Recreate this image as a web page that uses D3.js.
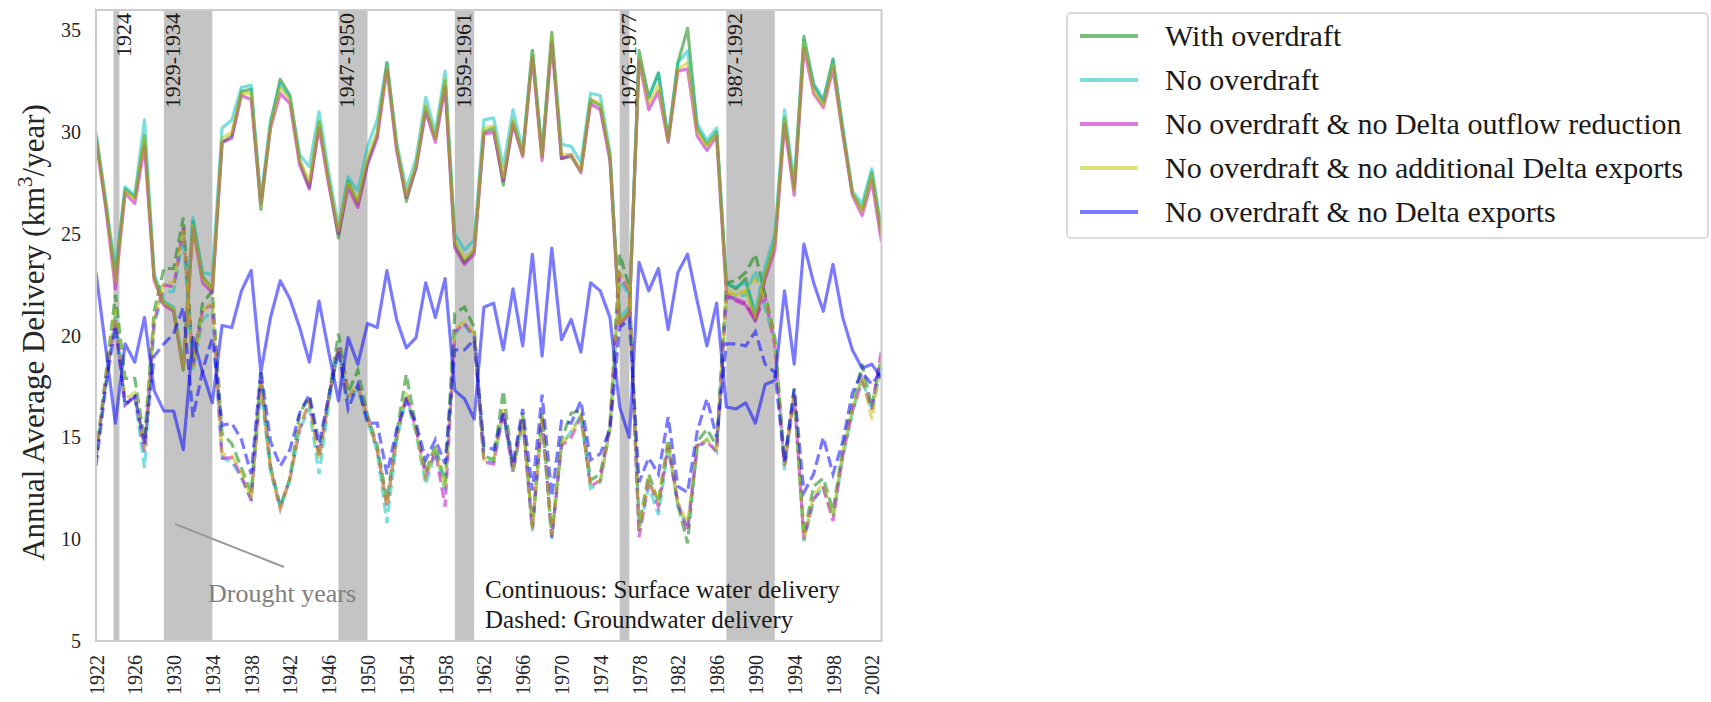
<!DOCTYPE html>
<html>
<head>
<meta charset="utf-8">
<script src="https://cdn.jsdelivr.net/npm/d3@7"></script>
<style>
  body { margin: 0; background: #fff; }
  svg { display: block; }
  text { font-family: "Liberation Serif", "Times New Roman", serif; }
</style>
</head>
<body>
<svg id="chart" width="1711" height="702"></svg>
<script>
// Water years simulated
const years = d3.range(1922, 2004);

// Surface water delivery (km3/year), one array per scenario
const withOverdraftSW = [
  29.8, 26.5, 22.9, 27.2, 26.8, 29.8, 22.9, 21.6, 21.3, 18.3,
  25.6, 22.9, 22.3, 29.5, 29.8, 32.0, 32.1, 26.2, 30.4, 32.6,
  31.8, 28.6, 27.3, 30.5, 27.6, 24.8, 27.6, 26.5, 28.5, 29.9,
  33.4, 29.3, 26.6, 28.3, 31.2, 29.7, 32.5, 24.5, 23.6, 24.2,
  30.0, 30.2, 27.4, 30.5, 28.9, 34.0, 28.8, 34.9, 28.7, 28.8,
  28.1, 31.6, 31.3, 28.8, 20.6, 21.2, 34.0, 31.7, 32.9, 29.6,
  33.4, 35.1, 30.2, 29.4, 30.0, 22.6, 22.3, 22.8, 20.8, 23.0,
  24.6, 30.7, 27.2, 34.7, 32.3, 31.5, 33.6, 30.1, 27.0, 26.2,
  28.0, 25.0
];
const noOverdraftSW = [
  30.0, 26.7, 23.2, 27.3, 26.9, 30.6, 23.0, 21.7, 21.4, 18.6,
  25.8, 23.1, 23.0, 30.2, 30.6, 32.2, 32.3, 26.7, 30.6, 32.4,
  31.7, 28.9, 28.3, 31.0, 28.0, 25.4, 27.8, 27.1, 29.3, 30.6,
  33.4, 29.5, 27.2, 28.7, 31.7, 30.0, 33.0, 25.0, 24.2, 24.7,
  30.6, 30.7, 28.3, 31.1, 29.1, 34.0, 29.1, 34.6, 29.4, 29.3,
  28.5, 31.9, 31.8, 29.0, 20.9, 21.4, 33.6, 31.7, 32.9, 29.7,
  33.4, 34.0, 30.4, 29.6, 30.2, 22.5, 22.4, 22.6, 21.2, 23.4,
  25.0, 31.1, 27.5, 34.5, 32.4, 31.6, 33.5, 30.3, 27.1, 26.5,
  28.2, 25.2
];
const noOutflowReductionSW = [
  29.6, 26.3, 22.3, 27.0, 26.5, 29.3, 22.7, 21.5, 21.2, 18.4,
  25.3, 22.6, 22.1, 29.5, 29.7, 31.8, 31.6, 26.5, 30.2, 31.9,
  31.4, 28.4, 27.2, 30.2, 27.4, 25.0, 27.3, 26.3, 28.4, 29.7,
  33.1, 29.1, 26.8, 28.2, 31.0, 29.5, 32.2, 24.3, 23.5, 24.0,
  29.9, 30.0, 27.6, 30.4, 28.8, 33.7, 28.6, 34.4, 28.7, 28.9,
  28.0, 31.4, 31.1, 28.6, 20.5, 21.1, 33.5, 31.1, 32.0, 29.5,
  33.0, 33.1, 29.8, 29.1, 29.8, 22.1, 21.7, 21.5, 20.7, 22.8,
  24.2, 30.4, 26.9, 34.1, 31.9, 31.2, 33.1, 29.9, 26.9, 25.9,
  27.6, 24.6
];
const noAdditionalExportsSW = [
  29.8, 26.5, 22.7, 27.1, 26.7, 29.8, 22.8, 21.6, 21.3, 18.4,
  25.4, 22.8, 22.3, 29.7, 30.0, 31.9, 31.9, 26.5, 30.3, 32.2,
  31.6, 28.6, 27.6, 30.5, 27.6, 25.2, 27.5, 26.6, 28.8, 30.0,
  33.2, 29.3, 26.9, 28.4, 31.3, 29.7, 32.6, 24.6, 23.8, 24.2,
  30.2, 30.3, 27.8, 30.6, 28.9, 33.9, 28.8, 34.7, 28.9, 28.9,
  28.1, 31.6, 31.4, 28.8, 20.6, 21.2, 33.6, 31.4, 32.3, 29.6,
  33.1, 33.4, 30.0, 29.3, 29.9, 22.3, 22.0, 22.2, 20.9, 23.0,
  24.5, 30.7, 27.1, 34.4, 32.0, 31.3, 33.3, 30.0, 27.0, 26.1,
  27.9, 24.9
];
const noExportsSW = [
  23.1, 19.4, 15.7, 19.6, 18.7, 20.9, 17.3, 16.3, 16.3, 14.4,
  19.9, 18.2, 16.7, 20.5, 20.4, 22.2, 23.2, 18.2, 20.9, 22.7,
  21.8, 20.4, 18.7, 21.7, 19.2, 16.8, 19.9, 18.6, 20.6, 20.4,
  23.2, 20.8, 19.4, 19.9, 22.6, 20.9, 22.8, 17.3, 16.9, 15.9,
  21.4, 21.6, 19.3, 22.3, 19.5, 24.0, 19.0, 24.3, 19.8, 20.8,
  19.2, 22.6, 22.2, 20.9, 16.5, 15.0, 23.6, 22.2, 23.3, 20.3,
  23.1, 24.0, 21.7, 19.5, 21.6, 16.5, 16.4, 16.7, 15.7, 17.6,
  17.8, 22.2, 18.6, 24.5, 22.6, 21.2, 23.5, 20.9, 19.3, 18.4,
  18.6, 17.9
];

// Groundwater delivery (km3/year), one array per scenario
const withOverdraftGW = [
  14.0, 18.0, 22.0, 17.9, 17.9, 14.9, 21.2, 23.3, 23.3, 25.8,
  18.6, 21.6, 22.2, 15.2, 14.7, 13.5, 12.3, 18.2, 13.6, 11.6,
  13.0, 16.2, 17.0, 14.2, 17.0, 20.1, 17.2, 18.3, 16.1, 14.6,
  11.9, 15.2, 18.1, 15.5, 13.3, 14.6, 12.8, 21.1, 21.4, 20.4,
  14.1, 13.9, 17.3, 13.5, 16.2, 10.6, 16.2, 10.1, 14.9, 16.2,
  16.3, 12.9, 13.2, 15.6, 24.0, 22.4, 10.7, 13.2, 11.8, 14.9,
  11.7, 9.8, 14.8, 15.4, 14.6, 22.6, 22.7, 23.1, 24.0, 22.0,
  19.9, 13.8, 17.4, 10.2, 12.6, 13.0, 11.4, 14.4, 16.6, 18.6,
  16.5, 19.0
];
const noOverdraftGW = [
  14.2, 17.6, 21.0, 16.6, 17.0, 13.5, 20.6, 22.1, 22.2, 24.8,
  18.3, 20.8, 21.2, 14.0, 13.8, 13.0, 12.0, 17.4, 13.3, 11.6,
  12.9, 15.4, 16.4, 13.2, 16.6, 19.4, 16.8, 17.4, 15.8, 14.3,
  10.8, 14.8, 17.0, 15.2, 12.7, 14.3, 12.4, 20.1, 20.5, 19.9,
  13.9, 13.8, 16.1, 13.3, 15.8, 10.4, 15.9, 10.0, 14.6, 15.3,
  16.1, 12.5, 12.8, 15.4, 22.7, 22.0, 10.4, 12.6, 11.2, 14.5,
  11.6, 10.6, 14.4, 14.9, 14.3, 21.8, 21.9, 22.0, 23.2, 21.3,
  19.8, 13.4, 17.0, 9.9, 11.9, 12.6, 11.1, 14.0, 16.2, 17.9,
  16.3, 18.6
];
const noOutflowReductionGW = [
  14.0, 17.8, 20.8, 16.6, 17.1, 14.3, 20.7, 22.5, 22.4, 25.3,
  18.5, 21.3, 21.5, 14.0, 14.0, 13.1, 11.9, 17.8, 13.5, 11.5,
  13.0, 15.4, 16.8, 14.0, 16.9, 19.5, 17.0, 17.5, 16.0, 14.4,
  11.6, 15.0, 17.1, 15.4, 13.1, 14.3, 11.6, 20.2, 20.6, 20.0,
  13.8, 13.7, 16.3, 13.3, 15.9, 10.5, 16.0, 10.1, 14.6, 15.0,
  16.0, 12.6, 12.9, 15.5, 23.0, 22.2, 10.1, 12.9, 11.6, 14.6,
  11.8, 10.4, 14.6, 14.8, 14.3, 21.9, 21.8, 21.6, 20.8, 21.9,
  19.5, 13.6, 17.1, 10.0, 12.0, 12.5, 10.9, 14.1, 16.3, 17.8,
  16.4, 19.3
];
const noAdditionalExportsGW = [
  14.1, 17.8, 21.3, 16.9, 17.2, 14.4, 20.8, 22.6, 22.6, 25.2,
  18.4, 21.2, 21.7, 14.2, 14.1, 13.3, 12.0, 17.7, 13.4, 11.5,
  13.0, 15.6, 16.7, 13.9, 16.8, 19.4, 17.0, 17.6, 15.9, 14.4,
  11.6, 14.9, 17.2, 15.3, 13.0, 14.4, 12.5, 20.3, 20.7, 20.1,
  13.9, 13.9, 16.4, 13.4, 16.0, 10.5, 16.1, 10.2, 14.7, 15.2,
  16.1, 12.7, 12.9, 15.4, 23.1, 22.3, 10.5, 12.9, 11.9, 14.7,
  11.8, 10.8, 14.6, 14.9, 14.4, 22.1, 22.0, 22.2, 22.8, 21.8,
  19.7, 13.6, 17.2, 10.0, 12.2, 12.7, 11.1, 14.3, 16.4, 18.0,
  15.9, 18.8
];
const noExportsGW = [
  13.6, 17.5, 20.5, 16.6, 17.0, 14.7, 19.0, 19.6, 20.1, 21.4,
  16.0, 18.3, 19.9, 15.6, 15.7, 14.9, 13.2, 18.3, 14.8, 13.6,
  14.4, 16.2, 17.1, 14.7, 17.0, 19.3, 16.4, 17.6, 15.7, 15.7,
  13.2, 15.4, 16.8, 15.7, 13.9, 14.9, 13.7, 19.3, 19.3, 19.8,
  14.6, 14.4, 16.2, 13.7, 16.4, 12.4, 17.1, 12.1, 15.8, 15.7,
  16.8, 13.9, 14.2, 15.4, 20.4, 20.8, 12.8, 14.0, 13.2, 16.0,
  12.6, 12.3, 15.3, 16.9, 15.0, 19.6, 19.6, 19.5, 20.2, 18.6,
  18.2, 13.8, 17.4, 12.3, 13.2, 15.0, 13.2, 14.8, 17.2, 18.2,
  17.6, 18.3
];

const scenarioNames = [
  "With overdraft",
  "No overdraft",
  "No overdraft & no Delta outflow reduction",
  "No overdraft & no additional Delta exports",
  "No overdraft & no Delta exports"
];
const scenarioColors = ["#008000", "#00bfbf", "#bf00bf", "#bfbf00", "#0000ff"];
const surfaceSeries = [withOverdraftSW, noOverdraftSW, noOutflowReductionSW, noAdditionalExportsSW, noExportsSW];
const groundSeries = [withOverdraftGW, noOverdraftGW, noOutflowReductionGW, noAdditionalExportsGW, noExportsGW];

// Drought periods shaded on the chart
const droughtPeriods = [[1924, 1924], [1929, 1934], [1947, 1950], [1959, 1961], [1976, 1977], [1987, 1992]];
const droughtLabels = ["1924", "1929-1934", "1947-1950", "1959-1961", "1976-1977", "1987-1992"];

const xTickYears = [1922, 1926, 1930, 1934, 1938, 1942, 1946, 1950, 1954, 1958, 1962, 1966, 1970, 1974, 1978, 1982, 1986, 1990, 1994, 1998, 2002];
const yTickValues = [5, 10, 15, 20, 25, 30, 35];

const svg = d3.select("#chart");
const plot = { left: 96, right: 881.5, top: 10, bottom: 641 };

const x = d3.scaleLinear().domain([1922, 2003]).range([plot.left, plot.right]);
const y = d3.scaleLinear().domain([5, 36]).range([plot.bottom, plot.top]);

svg.append("defs").append("clipPath").attr("id", "plot-clip")
  .append("rect")
  .attr("x", plot.left).attr("y", plot.top)
  .attr("width", plot.right - plot.left).attr("height", plot.bottom - plot.top);

// Drought shading
const bands = svg.append("g");
droughtPeriods.forEach(([s, e]) => {
  let x0 = x(s), x1 = x(e);
  if (x1 - x0 < 6) { x0 -= 2; x1 = x0 + 6; }
  bands.append("rect")
    .attr("x", x0).attr("y", plot.top)
    .attr("width", x1 - x0).attr("height", plot.bottom - plot.top)
    .attr("fill", "#c4c4c4");
});

// Delivery lines: solid = surface water, dashed = groundwater
const line = d3.line().x((d, i) => x(years[i])).y(d => y(d));
const lines = svg.append("g").attr("clip-path", "url(#plot-clip)");
surfaceSeries.forEach((vals, k) => {
  lines.append("path").datum(vals)
    .attr("d", line)
    .attr("fill", "none")
    .attr("stroke", scenarioColors[k])
    .attr("stroke-opacity", 0.52)
    .attr("stroke-width", 3.2)
    .attr("stroke-linejoin", "round");
  lines.append("path").datum(groundSeries[k])
    .attr("d", line)
    .attr("fill", "none")
    .attr("stroke", scenarioColors[k])
    .attr("stroke-opacity", 0.52)
    .attr("stroke-width", 3.2)
    .attr("stroke-dasharray", "11,5");
});

// Drought period labels
droughtPeriods.forEach(([s], i) => {
  svg.append("text")
    .attr("transform", `translate(${x(s) + 16},${plot.top + 3}) rotate(-90)`)
    .attr("text-anchor", "end")
    .attr("font-size", 22)
    .attr("fill", "#1a1a1a")
    .text(droughtLabels[i]);
});

// Frame
svg.append("rect")
  .attr("x", plot.left).attr("y", plot.top)
  .attr("width", plot.right - plot.left).attr("height", plot.bottom - plot.top)
  .attr("fill", "none").attr("stroke", "#cccccc").attr("stroke-width", 2);

// Axes
const tickFont = "'Liberation Serif', 'Times New Roman', serif";
const yAxis = svg.append("g").attr("transform", `translate(${plot.left},0)`)
  .call(d3.axisLeft(y).tickValues(yTickValues).tickSize(0).tickPadding(15));
yAxis.select(".domain").remove();
yAxis.selectAll("text").attr("font-size", 20).attr("fill", "#262626")
  .style("font-family", tickFont);

const xAxis = svg.append("g").attr("transform", `translate(0,${plot.bottom})`)
  .call(d3.axisBottom(x).tickValues(xTickYears).tickSize(0).tickFormat(d3.format("d")));
xAxis.select(".domain").remove();
xAxis.selectAll("text")
  .attr("x", -14).attr("y", 0).attr("dy", "0.35em")
  .attr("transform", "rotate(-90)")
  .attr("text-anchor", "end")
  .attr("font-size", 20).attr("fill", "#262626")
  .style("font-family", tickFont);

// Y axis title
const yTitle = svg.append("text")
  .attr("transform", `translate(44,${(plot.top + plot.bottom) / 2 + 7}) rotate(-90)`)
  .attr("text-anchor", "middle")
  .attr("font-size", 31)
  .attr("fill", "#262626");
yTitle.append("tspan").text("Annual Average Delivery (km");
yTitle.append("tspan").attr("baseline-shift", "super").attr("font-size", 21).text("3");
yTitle.append("tspan").text("/year)");

// Annotations
svg.append("line")
  .attr("x1", 175).attr("y1", 524).attr("x2", 284).attr("y2", 567)
  .attr("stroke", "#999999").attr("stroke-width", 2);
svg.append("text").attr("x", 208).attr("y", 602)
  .attr("font-size", 26).attr("fill", "#808080").text("Drought years");
svg.append("text").attr("x", 485).attr("y", 598)
  .attr("font-size", 25).attr("fill", "#1a1a1a").text("Continuous: Surface water delivery");
svg.append("text").attr("x", 485).attr("y", 628)
  .attr("font-size", 25).attr("fill", "#1a1a1a").text("Dashed: Groundwater delivery");

// Legend
const legend = svg.append("g");
legend.append("rect")
  .attr("x", 1067).attr("y", 13).attr("width", 641).attr("height", 225)
  .attr("rx", 4).attr("fill", "#fff").attr("stroke", "#d0d0d0").attr("stroke-width", 1.5);
scenarioNames.forEach((name, i) => {
  const cy = 36 + i * 44;
  legend.append("line")
    .attr("x1", 1080).attr("x2", 1138).attr("y1", cy).attr("y2", cy)
    .attr("stroke", scenarioColors[i]).attr("stroke-opacity", 0.52).attr("stroke-width", 4);
  legend.append("text")
    .attr("x", 1165).attr("y", cy).attr("dy", "0.33em")
    .attr("font-size", 30).attr("fill", "#1a1a1a")
    .text(name);
});
</script>
</body>
</html>
